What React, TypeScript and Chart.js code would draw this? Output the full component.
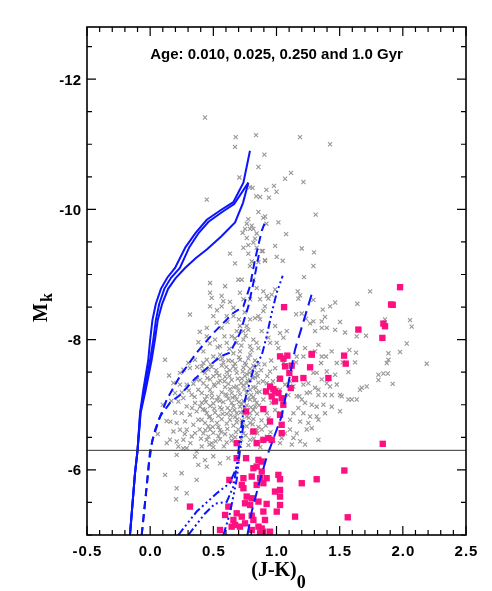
import React, { useEffect, useRef } from 'react';
import { Chart, registerables } from 'chart.js';

Chart.register(...registerables);

type P = [number, number];

// ---- axis / label data ----
const xTickValues = [-0.5, 0, 0.5, 1, 1.5, 2, 2.5];
const xTickLabels = ['-0.5', '0.0', '0.5', '1.0', '1.5', '2.0', '2.5'];
const yTickValues = [-12, -10, -8, -6];
const yTickLabels = ['-12', '-10', '-8', '-6'];
const titleText = 'Age: 0.010, 0.025, 0.250 and 1.0 Gyr';
const xAxisTitle = '(J-K)';
const xAxisSub = '0';
const yAxisTitle = 'M';
const yAxisSub = 'k';
const cutLineMag = -6.3;
const xRange: P = [-0.5, 2.5];
const yRange: P = [-12.8, -5];

// ---- isochrones ----
// 0.010 Gyr (solid)
const iso010a: P[] = [[-0.16, -5.0], [-0.12, -5.95], [-0.10, -6.3], [-0.08, -6.88], [-0.054, -7.23], [-0.015, -7.69], [0.0, -8.0], [0.018, -8.3], [0.045, -8.55], [0.085, -8.78], [0.135, -8.95], [0.197, -9.1], [0.28, -9.42], [0.36, -9.64], [0.448, -9.84], [0.56, -9.99], [0.658, -10.11], [0.738, -10.41], [0.79, -10.9]];
const iso010b: P[] = [[-0.16, -5.0], [-0.12, -5.95], [-0.10, -6.3], [-0.078, -6.88], [-0.045, -7.23], [0.0, -7.69], [0.025, -8.0], [0.045, -8.3], [0.072, -8.55], [0.112, -8.78], [0.165, -8.95], [0.235, -9.1], [0.31, -9.42], [0.385, -9.64], [0.462, -9.81], [0.57, -9.96], [0.665, -10.08], [0.777, -10.41]];
const iso010c: P[] = [[-0.16, -5.0], [-0.12, -5.95], [-0.10, -6.3], [-0.075, -6.88], [-0.035, -7.23], [0.012, -7.69], [0.038, -8.0], [0.06, -8.3], [0.095, -8.55], [0.142, -8.78], [0.2, -8.94], [0.276, -9.1], [0.36, -9.25], [0.448, -9.385], [0.56, -9.58], [0.672, -9.80], [0.735, -10.1], [0.777, -10.41]];
// 0.025 Gyr (dashed)
const iso025a: P[] = [[-0.067, -5.0], [-0.049, -5.34], [-0.022, -5.85], [-0.009, -6.11], [0.018, -6.46], [0.07, -6.77], [0.131, -7.08], [0.236, -7.44], [0.368, -7.80], [0.5, -8.10], [0.658, -8.41], [0.738, -8.51], [0.79, -8.82], [0.83, -9.23], [0.883, -9.67], [0.905, -9.78]];
const iso025b: P[] = [[-0.067, -5.0], [-0.035, -5.6], [0.0, -6.31], [0.04, -6.62], [0.078, -6.82], [0.157, -7.03], [0.236, -7.15], [0.355, -7.40], [0.553, -7.74], [0.632, -7.80], [0.711, -8.10], [0.777, -8.51], [0.817, -8.87], [0.86, -9.3]];
// 0.250 Gyr (dash-dot-dot-dot)
const iso250a: P[] = [[0.223, -5.0], [0.368, -5.36], [0.527, -5.64], [0.632, -5.80], [0.685, -6.05], [0.711, -6.50], [0.751, -7.08], [0.817, -7.54], [0.883, -7.76], [0.922, -8.05], [0.962, -8.41], [1.002, -8.72], [1.049, -8.98]];
const iso250b: P[] = [[0.302, -5.0], [0.434, -5.33], [0.513, -5.48], [0.606, -5.51], [0.658, -5.74], [0.685, -6.05]];
const iso250c: P[] = [[0.58, -5.0], [0.632, -5.34], [0.685, -5.85], [0.711, -6.31], [0.745, -6.8]];
// 1.0 Gyr (long dashes)
const iso1000: P[] = [[0.77, -5.0], [0.804, -5.36], [0.87, -5.85], [0.923, -6.20], [1.04, -6.82], [1.094, -7.33], [1.147, -7.85], [1.29, -8.77]];

// ---- field stars (grey crosses) ----
const grayStars: P[] = [
  [0.434, -11.41], [0.677, -11.11], [0.672, -10.96], [0.838, -11.14], [0.904, -10.84], [0.857, -10.65], [0.706, -10.49], [0.79, -10.34], [0.81, -10.33], [0.448, -10.15], [0.84, -10.2], [0.87, -10.19], [0.92, -10.30], [0.94, -10.18], [0.98, -10.36], [1.0, -10.27], [0.857, -9.96], [0.91, -9.89], [1.186, -11.11], [1.424, -11.0], [1.115, -10.56], [1.068, -10.47], [1.213, -10.42], [1.31, -9.92],
  [0.896, -9.87], [0.777, -9.85], [0.92, -9.78], [0.765, -9.78], [0.804, -9.75], [0.79, -9.70], [0.751, -9.70], [0.817, -9.70], [0.732, -9.64], [0.843, -9.63], [0.765, -9.56], [0.83, -9.55], [0.817, -9.49], [0.777, -9.45], [0.738, -9.41], [0.777, -9.32], [0.843, -9.41], [0.883, -9.36], [0.632, -9.32], [0.672, -9.17], [0.804, -9.20], [0.857, -9.19], [0.909, -9.22], [0.79, -9.13],
  [0.698, -8.92], [0.725, -8.92], [0.593, -8.82], [0.474, -8.87], [0.843, -8.79], [0.817, -8.92], [0.474, -8.72], [0.487, -8.64], [0.474, -8.51], [0.566, -8.67], [0.579, -8.59], [0.659, -8.49], [0.566, -8.51], [0.711, -8.72], [0.738, -8.62], [0.791, -8.62], [0.857, -8.36], [0.830, -8.33], [0.791, -8.31], [0.764, -8.21], [0.711, -8.21], [0.685, -8.13], [0.738, -8.13], [0.777, -8.15], [0.645, -8.05], [0.659, -8.36], [0.606, -8.36], [0.527, -8.26], [0.500, -8.36], [0.448, -8.18], [0.448, -8.05], [0.513, -8.00], [0.553, -7.90], [0.606, -7.95], [0.685, -7.95], [0.738, -8.00], [0.791, -7.90], [0.817, -8.00], [0.857, -7.87], [0.791, -7.77], [0.711, -7.82], [0.659, -7.79], [0.553, -7.77], [0.500, -7.74],
  [1.015, -9.80], [1.076, -9.62], [0.989, -9.44], [1.200, -9.40], [1.297, -9.34], [0.891, -9.36], [1.002, -9.27], [1.049, -9.21], [0.909, -9.21], [1.292, -9.13], [1.218, -8.96], [1.741, -8.74], [1.168, -8.74], [1.187, -8.68], [1.173, -8.63], [1.292, -8.61], [1.366, -8.46], [1.424, -8.51], [1.464, -8.57], [1.640, -8.55], [1.155, -8.39], [1.200, -8.40], [1.234, -8.32], [1.266, -8.25], [1.292, -8.28], [1.358, -8.28], [1.384, -8.35], [1.305, -8.13], [1.358, -8.18], [1.398, -8.18], [1.464, -8.15], [1.503, -8.27], [1.543, -8.11], [1.635, -8.05], [1.709, -8.06], [1.859, -8.31], [2.057, -8.30], [2.070, -8.20], [2.031, -7.94], [1.978, -7.81], [1.886, -7.79], [1.886, -7.69], [1.873, -7.64], [2.189, -7.63], [1.807, -7.46], [1.846, -7.48], [1.881, -7.48], [1.807, -7.38], [1.920, -7.32], [1.577, -7.84], [1.630, -7.80], [1.622, -7.65], [1.569, -7.50], [1.524, -7.65], [1.477, -7.64], [1.464, -7.46], [1.398, -7.51], [1.353, -7.64], [1.358, -7.74], [1.392, -7.74], [1.437, -7.82], [1.332, -7.92], [1.305, -7.82], [1.213, -7.74], [1.226, -7.87], [1.160, -7.74], [1.155, -7.65], [1.292, -7.49], [1.318, -7.49], [1.358, -7.39], [1.213, -7.31], [1.398, -7.33], [1.477, -7.31], [1.516, -7.13], [1.661, -7.23], [1.675, -7.26], [1.714, -7.28], [1.332, -7.23], [1.266, -7.19], [1.181, -7.13], [1.134, -7.28], [1.107, -7.36], [1.015, -7.39], [0.949, -7.51], [0.923, -7.33], [0.989, -7.56], [1.055, -7.64], [1.015, -7.87], [1.002, -7.95], [0.949, -7.95], [0.936, -8.03], [0.989, -8.21], [1.028, -8.10], [1.055, -8.03], [1.081, -8.13], [0.883, -8.13], [0.870, -8.31], [0.896, -8.44], [0.870, -8.62], [0.909, -8.51], [0.936, -8.63], [0.962, -8.69], [0.923, -8.67], [0.896, -8.74], [0.989, -8.77],
  [1.252, -7.33], [1.305, -7.26], [1.424, -7.28], [1.332, -7.15], [1.384, -7.15], [1.437, -7.15], [1.503, -7.15], [1.569, -7.08], [1.635, -7.08], [1.226, -7.03], [1.279, -7.00], [1.318, -6.97], [1.371, -7.00], [1.437, -6.97], [1.503, -6.90], [1.596, -7.08], [1.213, -6.87], [1.266, -6.82], [1.318, -6.82], [1.384, -6.87], [1.187, -6.74], [1.252, -6.72], [1.332, -6.77], [1.239, -6.62], [1.279, -6.64], [1.332, -6.46], [1.187, -6.44], [1.121, -6.39], [1.226, -6.39], [1.041, -6.49], [1.068, -6.56], [1.107, -6.62], [1.134, -6.49], [1.160, -6.56], [1.107, -6.77], [1.134, -6.87], [1.173, -6.95], [1.200, -7.08], [1.239, -7.18], [1.160, -7.13], [1.068, -7.31], [1.028, -7.23], [1.094, -7.15], [1.055, -7.03], [1.028, -6.87], [0.962, -7.03], [0.989, -6.92], [0.923, -6.87], [0.896, -7.08], [0.923, -7.18], [0.883, -6.62], [0.923, -6.51], [0.975, -6.46], [1.028, -6.41], [0.883, -6.44],
  [0.448, -7.69], [0.540, -7.70], [0.619, -7.68], [0.711, -7.69], [0.777, -7.71], [0.830, -7.68],
  [0.408, -7.59], [0.487, -7.58], [0.566, -7.60], [0.659, -7.59], [0.738, -7.57], [0.817, -7.60],
  [0.434, -7.49], [0.527, -7.48], [0.606, -7.50], [0.685, -7.49], [0.764, -7.47], [0.843, -7.49],
  [0.395, -7.38], [0.474, -7.39], [0.553, -7.37], [0.645, -7.38], [0.725, -7.40], [0.791, -7.38],
  [0.448, -7.28], [0.513, -7.29], [0.593, -7.27], [0.685, -7.28], [0.738, -7.30], [0.817, -7.27],
  [0.408, -7.18], [0.487, -7.17], [0.566, -7.19], [0.645, -7.18], [0.711, -7.16], [0.764, -7.18], [0.843, -7.19],
  [0.434, -7.08], [0.527, -7.07], [0.619, -7.09], [0.685, -7.08], [0.738, -7.06], [0.791, -7.08],
  [0.395, -6.97], [0.474, -6.98], [0.553, -6.96], [0.659, -6.98], [0.711, -6.97], [0.764, -6.99], [0.830, -6.97],
  [0.448, -6.87], [0.513, -6.88], [0.606, -6.86], [0.685, -6.87], [0.738, -6.89], [0.791, -6.87],
  [0.408, -6.77], [0.487, -6.76], [0.566, -6.78], [0.632, -6.77], [0.725, -6.76], [0.817, -6.78],
  [0.461, -6.67], [0.540, -6.66], [0.659, -6.68], [0.764, -6.67], [0.857, -6.66],
  [0.421, -6.56], [0.500, -6.57], [0.593, -6.55], [0.738, -6.56], [0.804, -6.57],
  [0.448, -6.46], [0.553, -6.47], [0.645, -6.45], [0.791, -6.46],
  [0.408, -6.36], [0.500, -6.35], [0.711, -6.37],
  [0.434, -6.15], [0.500, -6.21], [0.448, -6.05], [0.553, -6.10], [0.619, -6.18],
  [0.421, -7.64], [0.579, -7.65], [0.672, -7.63], [0.751, -7.64], [0.857, -7.62],
  [0.461, -7.54], [0.632, -7.53], [0.791, -7.55],
  [0.500, -7.44], [0.593, -7.43], [0.751, -7.44], [0.830, -7.42],
  [0.421, -7.33], [0.540, -7.34], [0.619, -7.32], [0.764, -7.33], [0.857, -7.34],
  [0.474, -7.23], [0.632, -7.24], [0.698, -7.22], [0.791, -7.23],
  [0.448, -7.13], [0.540, -7.12], [0.606, -7.14], [0.672, -7.13], [0.817, -7.12],
  [0.408, -7.03], [0.500, -7.02], [0.579, -7.04], [0.645, -7.03], [0.725, -7.01], [0.843, -7.03],
  [0.434, -6.92], [0.566, -6.93], [0.632, -6.91], [0.817, -6.92],
  [0.474, -6.82], [0.540, -6.83], [0.672, -6.81], [0.764, -6.82],
  [0.434, -6.72], [0.606, -6.71], [0.685, -6.73], [0.791, -6.72],
  [0.474, -6.62], [0.553, -6.61], [0.698, -6.62], [0.843, -6.60],
  [0.461, -6.51], [0.540, -6.52], [0.672, -6.50],
  [0.487, -6.41], [0.606, -6.42],
  [0.184, -7.334], [0.236, -7.308], [0.289, -7.308], [0.342, -7.323], [0.197, -7.18], [0.263, -7.103], [0.329, -7.154], [0.381, -7.231], [0.223, -7.05], [0.289, -6.975], [0.355, -7.026], [0.249, -6.872], [0.315, -6.847], [0.368, -6.898], [0.210, -6.718], [0.276, -6.744], [0.342, -6.693], [0.381, -6.77], [0.184, -6.59], [0.236, -6.616], [0.289, -6.616], [0.355, -6.564], [0.157, -6.462], [0.210, -6.436], [0.263, -6.462], [0.329, -6.513], [0.131, -6.41], [0.223, -6.359], [0.289, -6.334], [0.368, -6.282], [0.355, -6.205], [0.210, -6.231], [0.118, -5.924], [0.249, -5.949], [0.368, -5.846], [0.210, -5.718], [0.205, -5.549], [0.289, -5.641], [0.381, -6.077],
  [0.10, -7.0], [0.13, -6.75], [0.06, -6.55], [0.15, -7.45],
  [0.315, -8.385], [0.382, -7.959], [0.118, -7.69], [0.236, -7.49], [0.302, -7.64], [0.263, -7.54], [0.315, -7.564], [0.355, -7.69], [0.368, -7.385],
];

// denser core of the field-star cloud
const grayCore: P[] = [
  [0.415, -7.52], [0.452, -7.41], [0.478, -7.62], [0.505, -7.31], [0.522, -7.53], [0.548, -7.45], [0.571, -7.71], [0.588, -7.36], [0.603, -7.58], [0.627, -7.44], [0.648, -7.67], [0.662, -7.27], [0.676, -7.55], [0.694, -7.40], [0.703, -7.73], [0.719, -7.33], [0.733, -7.51], [0.746, -7.24], [0.758, -7.61], [0.772, -7.37], [0.786, -7.49], [0.799, -7.15], [0.812, -7.41], [0.826, -7.57], [0.835, -7.26], [0.851, -7.44], [0.866, -7.20], [0.878, -7.53], [0.893, -7.36], [0.905, -7.62], [0.927, -7.44], [0.944, -7.25], [0.958, -7.68], [0.972, -7.36],
  [0.418, -6.93], [0.441, -7.04], [0.466, -6.81], [0.489, -7.11], [0.507, -6.94], [0.529, -6.72], [0.551, -7.06], [0.574, -6.86], [0.597, -7.16], [0.613, -6.95], [0.638, -6.84], [0.652, -7.11], [0.667, -6.92], [0.689, -6.78], [0.702, -7.04], [0.716, -6.88], [0.731, -6.69], [0.748, -6.94], [0.769, -7.09], [0.781, -6.80], [0.797, -6.96], [0.811, -6.70], [0.827, -7.07], [0.846, -6.86], [0.862, -6.99], [0.881, -6.76], [0.898, -6.95], [0.915, -6.68], [0.937, -6.79], [0.953, -6.58],
  [0.402, -6.48], [0.437, -6.61], [0.469, -6.39], [0.495, -6.66], [0.518, -6.44], [0.562, -6.58], [0.584, -6.36], [0.611, -6.63], [0.641, -6.52], [0.679, -6.58], [0.721, -6.47], [0.756, -6.53], [0.778, -6.38], [0.821, -6.48], [0.848, -6.56], [0.872, -6.35],
  [0.372, -7.58], [0.352, -7.12], [0.331, -6.95], [0.306, -7.22], [0.274, -6.55], [0.251, -7.19], [0.198, -6.88], [0.168, -7.06], [0.392, -6.62], [0.318, -6.41], [0.262, -6.33], [0.161, -6.74],
  [0.534, -7.88], [0.588, -8.05], [0.627, -7.86], [0.671, -8.02], [0.722, -7.91], [0.756, -8.06], [0.803, -7.84], [0.842, -7.95], [0.472, -7.94], [0.421, -7.82], [0.393, -8.12], [0.566, -8.18], [0.612, -8.27], [0.702, -8.31], [0.748, -8.42], [0.632, -8.58], [0.529, -8.45],
];

// ---- cluster candidates (magenta squares) ----
const pinkStars: P[] = [
  [1.028, -7.743], [1.086, -7.754], [1.279, -7.769], [1.120, -7.60], [1.068, -7.59], [1.213, -7.41], [1.411, -7.41], [1.028, -7.40], [0.949, -7.28], [0.917, -7.205], [0.988, -7.205], [1.015, -7.18], [0.962, -7.128], [1.041, -7.10], [0.988, -7.051], [1.054, -7.0], [0.896, -6.933], [0.759, -6.897], [1.028, -6.846], [0.949, -6.743], [1.041, -6.692], [0.817, -6.59], [1.041, -6.564], [0.685, -6.41], [0.843, -6.41], [0.896, -6.461], [0.936, -6.487], [0.962, -6.461],
  [0.685, -6.18], [0.759, -6.18], [0.857, -6.154], [0.883, -6.128], [0.843, -6.051], [0.817, -6.026], [0.883, -5.974], [0.804, -5.897], [0.738, -5.872], [0.870, -5.872], [0.922, -5.872], [1.015, -5.923], [0.627, -5.846], [0.725, -5.769], [0.843, -5.769], [0.738, -5.718], [1.200, -5.795], [1.318, -5.856], [1.028, -5.692], [0.988, -5.667], [0.764, -5.59], [0.804, -5.564], [0.751, -5.487], [0.791, -5.461], [0.857, -5.513], [0.922, -5.477], [1.028, -5.461], [0.619, -5.436], [1.002, -5.359], [0.593, -5.308], [0.685, -5.333], [0.725, -5.282], [0.804, -5.297], [0.751, -5.179], [0.817, -5.231], [0.659, -5.231], [1.147, -5.282], [0.645, -5.128], [0.672, -5.154], [0.711, -5.128], [0.804, -5.077], [0.857, -5.128], [0.883, -5.10], [0.896, -5.051], [0.949, -5.051], [0.553, -5.077],
  [0.315, -5.436],
  [1.978, -8.805], [1.907, -8.539], [1.920, -8.534], [1.060, -8.498], [1.846, -8.246], [1.859, -8.205], [1.648, -8.154], [1.838, -8.026], [1.279, -7.78], [1.535, -7.754], [1.548, -7.631], [1.055, -7.708], [1.266, -7.575], [1.102, -7.487], [0.975, -7.24], [1.147, -7.395], [1.113, -7.257],
  [1.841, -6.40], [1.537, -5.99], [1.564, -5.272], [1.028, -5.857], [0.896, -5.795], [1.028, -5.59], [0.896, -5.36], [0.909, -5.231], [0.870, -5.026],
];

const toXY = (arr: P[]) => arr.map(([x, y]) => ({ x, y }));

const BLUE = '#0a14ff';
const SERIF = '"Liberation Serif", "Times New Roman", serif';
const SANS = '"Liberation Sans", Arial, sans-serif';

const frameAndLabels = {
  id: 'frameAndLabels',
  afterDraw(chart: any) {
    const { ctx, chartArea: a, scales } = chart;
    const xs = scales.x;
    const ys = scales.y;
    ctx.save();
    ctx.strokeStyle = '#000';
    ctx.fillStyle = '#000';
    // ticks (inward on all four sides)
    ctx.lineWidth = 1.2;
    ctx.beginPath();
    for (let i = -5; i <= 25; i++) {
      const v = i / 10;
      const px = xs.getPixelForValue(v);
      const major = i % 5 === 0;
      const len = major ? 9 : 5;
      ctx.moveTo(px, a.bottom);
      ctx.lineTo(px, a.bottom - len);
      ctx.moveTo(px, a.top);
      ctx.lineTo(px, a.top + len);
    }
    for (let i = -25; i <= -10; i++) {
      const v = i / 2;
      const py = ys.getPixelForValue(v);
      const major = i % 4 === 0;
      const len = major ? 9 : 5;
      ctx.moveTo(a.left, py);
      ctx.lineTo(a.left + len, py);
      ctx.moveTo(a.right, py);
      ctx.lineTo(a.right - len, py);
    }
    ctx.stroke();
    // frame
    ctx.lineWidth = 1.6;
    ctx.strokeRect(a.left, a.top, a.right - a.left, a.bottom - a.top);

    // tick labels
    ctx.font = 'bold 15px ' + SANS;
    ctx.textBaseline = 'alphabetic';
    ctx.textAlign = 'center';
    try { (ctx as any).letterSpacing = '1px'; } catch (e) { /* ignore */ }
    xTickValues.forEach((v, i) => {
      ctx.fillText(xTickLabels[i], xs.getPixelForValue(v) + 0.5, a.bottom + 21);
    });
    try { (ctx as any).letterSpacing = '0px'; } catch (e) { /* ignore */ }
    ctx.textAlign = 'right';
    yTickValues.forEach((v, i) => {
      ctx.fillText(yTickLabels[i], a.left - 6, ys.getPixelForValue(v) + 5.5);
    });

    // title inside plot
    ctx.textAlign = 'center';
    ctx.font = 'bold 15px ' + SANS;
    ctx.fillText(titleText, xs.getPixelForValue(1.0), a.top + 32);

    // x axis title
    ctx.textAlign = 'left';
    ctx.font = 'bold 20px ' + SERIF;
    const w1 = ctx.measureText(xAxisTitle).width;
    ctx.font = 'bold 18px ' + SERIF;
    const w2 = ctx.measureText(xAxisSub).width;
    const cx = (a.left + a.right) / 2 + 2;
    const x0 = cx - (w1 + w2) / 2;
    ctx.font = 'bold 20px ' + SERIF;
    ctx.fillText(xAxisTitle, x0, a.bottom + 41);
    ctx.font = 'bold 18px ' + SERIF;
    ctx.fillText(xAxisSub, x0 + w1, a.bottom + 53);

    // y axis title (rotated)
    ctx.save();
    ctx.translate(a.left - 40, (a.top + a.bottom) / 2 + 41);
    ctx.rotate(-Math.PI / 2);
    ctx.font = 'bold 20px ' + SERIF;
    const wm = ctx.measureText(yAxisTitle).width;
    ctx.fillText(yAxisTitle, 0, 0);
    ctx.font = 'bold 16px ' + SERIF;
    ctx.fillText(yAxisSub, wm + 1, 5);
    ctx.restore();

    ctx.restore();
  },
};

const lineDs = (data: P[], dash: number[], order = 1) => ({
  type: 'scatter' as const,
  data: toXY(data),
  showLine: true,
  borderColor: BLUE,
  backgroundColor: BLUE,
  borderWidth: 2,
  borderDash: dash,
  pointRadius: 0,
  tension: 0,
  fill: false,
  order,
});

export default function App() {
  const ref = useRef<HTMLCanvasElement | null>(null);
  useEffect(() => {
    if (!ref.current) return;
    const dashDot3 = [8, 3, 2, 3, 2, 3, 2, 3];
    const grayStyle = {
      type: 'scatter',
      pointStyle: 'crossRot',
      pointRadius: 2.9,
      borderColor: '#979797',
      backgroundColor: '#979797',
      borderWidth: 1.1,
      order: 3,
    };
    const chart = new Chart(ref.current, {
      type: 'scatter',
      data: {
        datasets: [
          {
            type: 'scatter',
            data: [{ x: xRange[0], y: cutLineMag }, { x: xRange[1], y: cutLineMag }],
            showLine: true,
            borderColor: '#333',
            borderWidth: 1,
            pointRadius: 0,
            order: 0,
          } as any,
          lineDs(iso010a, []),
          lineDs(iso010b, []),
          lineDs(iso010c, []),
          lineDs(iso025a, [8, 5]),
          lineDs(iso025b, [8, 5]),
          lineDs(iso250a, dashDot3),
          lineDs(iso250b, dashDot3),
          lineDs(iso250c, dashDot3),
          lineDs(iso1000, [11, 6]),
          {
            type: 'scatter',
            data: toXY(pinkStars),
            pointStyle: 'rect',
            pointRadius: 4.5,
            backgroundColor: '#ff1080',
            borderColor: '#ff1080',
            borderWidth: 0,
            order: 2,
          } as any,
          { ...grayStyle, data: toXY(grayStars) } as any,
          { ...grayStyle, data: toXY(grayCore) } as any,
        ],
      },
      options: {
        responsive: false,
        animation: false,
        layout: { padding: { left: 87, right: 26, top: 27, bottom: 56 } },
        plugins: { legend: { display: false }, tooltip: { enabled: false }, title: { display: false } },
        scales: {
          x: { type: 'linear', min: xRange[0], max: xRange[1], display: false },
          y: { type: 'linear', min: yRange[0], max: yRange[1], reverse: true, display: false },
        },
      },
      plugins: [frameAndLabels],
    });
    return () => chart.destroy();
  }, []);
  return (
    <div style={{ position: 'absolute', left: 0, top: 0, width: 492, height: 591, background: '#fff' }}>
      <canvas ref={ref} width={492} height={591} style={{ width: 492, height: 591, display: 'block' }} />
    </div>
  );
}
